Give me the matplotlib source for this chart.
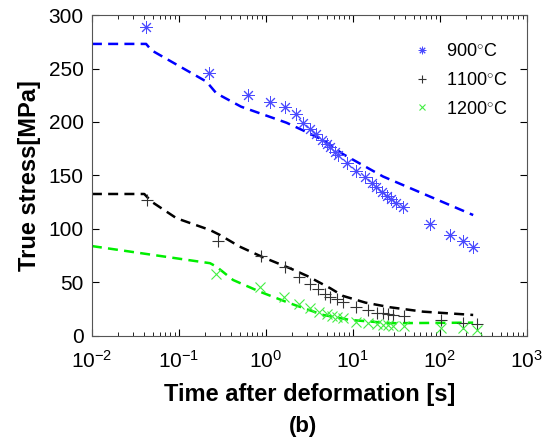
import matplotlib
matplotlib.use('Agg')
import matplotlib.pyplot as plt

plt.rcParams['font.family'] = ['Liberation Sans', 'DejaVu Sans']
plt.rcParams['mathtext.fontset'] = 'custom'
plt.rcParams['mathtext.rm'] = 'Liberation Sans'

# measured points
t900 = [0.042, 0.22, 0.63, 1.13, 1.65, 2.2, 2.7, 3.2, 3.8, 4.4, 5.0, 5.5, 6.2, 6.8,
        8.6, 11, 13.7, 16.4, 18.7, 21.4, 24.4, 27.8, 31.2, 38, 78, 130, 185, 242]
s900 = [288.5, 246, 225.5, 219, 213.7, 207.5, 199.3, 193.7, 188.8, 183, 179.4, 176.3, 172.2, 169.2,
        162, 154.5, 148.9, 143.3, 139, 134.9, 130.8, 127.8, 124.6, 120.8, 104.7, 94.4, 89, 83.5]

t1100 = [0.0425, 0.28, 0.89, 1.66, 2.43, 3.2, 4.0, 4.8, 5.45, 6.5, 7.7, 11, 14.8, 18.8,
         22.3, 25.4, 28.9, 38.9, 104, 185, 265]
s1100 = [127, 89, 74.8, 64.8, 55.4, 48.6, 43.6, 39.3, 36.7, 34.3, 32, 27.4, 24.3, 21.8,
         21.2, 20.6, 19.6, 18.7, 15, 12.4, 11.2]

t1200 = [0.265, 0.85, 1.62, 2.43, 3.2, 4.1, 5.0, 5.7, 6.5, 7.7, 11, 14.8, 18.8, 22.3,
         25.4, 28.9, 38.9, 104, 185, 265]
s1200 = [57.6, 46, 36.7, 29.9, 25.9, 22.7, 20.6, 19, 18, 16.5, 13.4, 11.9, 11.2, 10.3,
         10, 9.7, 9.4, 7.2, 7.2, 5.6]

# model curves
m900_t = [0.01, 0.042, 0.0485, 0.208, 0.27, 0.52, 1.73, 2.7, 4.57, 7.7, 22.3, 242]
m900_s = [273, 273, 267, 237.7, 226.8, 214.3, 199.3, 192, 183, 170, 149, 113]

m1100_t = [0.01, 0.04, 0.0485, 0.094, 0.228, 0.296, 0.5, 0.93, 1.89, 3.0, 5.5, 7.7, 14, 26.8, 64, 242]
m1100_s = [132.7, 132.7, 125.5, 110, 99, 94.4, 83.5, 73.5, 63.3, 56, 44.6, 37.4, 31.1, 26.8, 22.7, 19.6]

m1200_t = [0.01, 0.228, 0.27, 0.42, 0.85, 1.89, 4.57, 9.2, 26.8, 242]
m1200_s = [84, 68, 64.8, 52.3, 41.4, 30.5, 19.6, 15, 11.9, 12.4]

labels = ['900$^{\\circ}$C', '1100$^{\\circ}$C', '1200$^{\\circ}$C']

fig = plt.figure(figsize=(5.47, 4.42), dpi=100)
ax = fig.add_axes([0.168, 0.240, 0.795, 0.726])

ax.plot(m900_t, m900_s, '--', color='blue', lw=1.8, dashes=(4, 2.5))
ax.plot(m1100_t, m1100_s, '--', color='black', lw=1.8, dashes=(4, 2.5))
ax.plot(m1200_t, m1200_s, '--', color='#00ee00', lw=1.8, dashes=(4, 2.5))

ax.plot(t900, s900, marker=(8, 2, 0), color='#4a4aff', ms=9, mew=0.7, linestyle='none',
        label=labels[0])
ax.plot(t1100, s1100, '+', color='#333333', ms=9, mew=0.8, linestyle='none',
        label=labels[1])
ax.plot(t1200, s1200, 'x', color='#44ee44', ms=6.5, mew=0.8, linestyle='none',
        label=labels[2])

ax.set_xscale('log')
ax.set_xlim(1e-2, 1e3)
ax.set_ylim(0, 300)
ax.set_yticks([0, 50, 100, 150, 200, 250, 300])

ax.tick_params(which='both', direction='in', top=True, right=True, labelsize=15)
ax.tick_params(which='major', length=5)
ax.tick_params(which='minor', length=3)
ax.tick_params(axis='x', pad=10)
ax.tick_params(axis='y', pad=6)
for sp in ax.spines.values():
    sp.set_color('#555555')
    sp.set_linewidth(0.8)

ax.set_xlabel('Time after deformation [s]', fontsize=17, fontweight='bold', labelpad=8)
ax.set_ylabel('True stress[MPa]', fontsize=17, fontweight='bold', labelpad=5)

ax.legend(loc='upper left', frameon=False, fontsize=13, handlelength=1.0,
          markerscale=0.6, borderaxespad=0, labelspacing=0.65, handletextpad=0.85,
          bbox_to_anchor=(0.722, 0.935))

fig.text(0.554, 0.034, '(b)', fontsize=16, fontweight='bold', ha='center', va='center')

fig.savefig('out.png', dpi=100)
